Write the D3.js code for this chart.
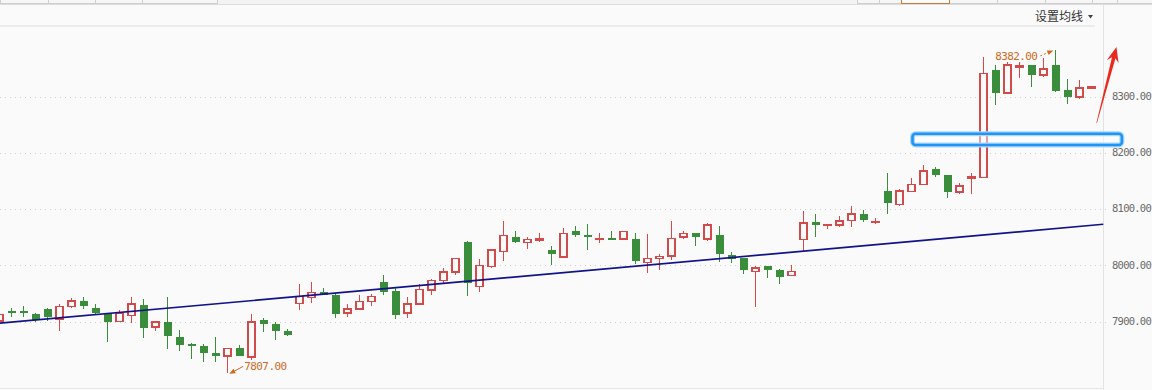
<!DOCTYPE html>
<html>
<head>
<meta charset="utf-8">
<script src="https://cdn.jsdelivr.net/npm/d3@7/dist/d3.min.js"></script>
<style>
  html, body { margin: 0; padding: 0; background: #fafafa; }
  svg { display: block; }
</style>
</head>
<body>
<svg id="chart" width="1152" height="390"></svg>
<script>
// ---------------- data ----------------
const openPrices  = [7900,7917,7917,7912,7921,7904,7926,7936,7924,7913,7899,7910,7928,7889,7898,7872,7859,7856,7843,7838,
                     7852,7836,7902,7895,7882,7931,7942,7952,7946,7914,7921,7935,7969,7953,7914,7930,7955,7972,7987,8040,
                     7961,7997,8024,8049,8040,8044,8026,8014,8060,8053,8046,8047,8046,8045,8004,8011,8016,8049,8056,8046,
                     8053,8017,8012,7988,7997,7991,7981,8045,8076,8070,8071,8079,8090,8076,8131,8107,8130,8143,8170,8160,
                     8129,8154,8155,8346,8305,8352,8355,8337,8355,8311,8298,8314];
const highPrices  = [7915,7924,7926,7914,7924,7930,7941,7942,7931,7913,7920,7942,7939,7900,7943,7884,7861,7859,7872,7852,
                     7857,7912,7905,7898,7886,7966,7969,7959,7950,7930,7947,7948,7982,7959,7942,7966,7975,7995,8012,8042,
                     8010,8026,8077,8060,8049,8056,8033,8065,8069,8072,8056,8060,8059,8056,8055,8020,8078,8060,8056,8075,
                     8069,8022,8012,7998,7997,7992,8000,8096,8091,8072,8087,8104,8097,8084,8164,8135,8155,8177,8174,8160,
                     8145,8163,8369,8355,8361,8360,8355,8367,8382,8330,8328,8316];
const lowPrices   = [7898,7908,7907,7899,7900,7883,7924,7921,7913,7863,7899,7896,7870,7883,7851,7847,7833,7828,7828,7807,
                     7837,7831,7881,7866,7874,7920,7932,7946,7906,7908,7920,7927,7946,7903,7906,7930,7947,7966,7981,7945,
                     7951,7995,8006,8038,8028,8041,8000,8014,8050,8027,8038,8045,8045,8001,7985,7991,8008,8045,8034,8043,
                     8005,8003,7984,7925,7977,7965,7981,8025,8050,8064,8068,8068,8076,8072,8091,8104,8129,8143,8156,8119,
                     8125,8125,8154,8284,8305,8332,8316,8333,8308,8286,8294,8314];
const closePrices = [7912,7916,7916,7901,7908,7926,7936,7927,7915,7899,7913,7930,7888,7898,7874,7857,7858,7843,7837,7851,
                     7837,7898,7895,7883,7875,7944,7951,7947,7913,7921,7935,7944,7952,7911,7930,7956,7972,7987,8011,7967,
                     7999,8026,8052,8041,8045,8047,8019,8056,8053,8049,8047,8046,8059,8007,8011,8015,8047,8056,8049,8071,
                     8020,8010,7990,7994,7991,7979,7988,8074,8071,8072,8078,8090,8079,8077,8110,8131,8143,8167,8160,8130,
                     8140,8156,8340,8306,8355,8354,8338,8348,8309,8299,8314,8316];

const yTicks = [7900, 8000, 8100, 8200, 8300];
const trendLine = [{i: 0, v: 7896}, {i: 92, v: 8072}];
const highlightBox = {i0: 76.1, i1: 93.55, v0: 8213, v1: 8233};
const redArrow = {from: {i: 91.45, v: 8252}, to: {i: 93.1, v: 8387}};
const maxMark = {i: 88, v: 8382, label: "8382.00"};
const minMark = {i: 19, v: 7807, label: "7807.00"};
const menuLabel = "设置均线";

// ---------------- setup ----------------
const svg = d3.select("#chart");
const W = 1152, H = 390;
const BG = "#fafafa", RED = "#d24b4b", GREEN = "#3a8d3a", ORANGE = "#cc6a26";
const axisX = 1103.5;

const x = d3.scaleLinear().domain([0, 91]).range([-0.7, 1091.3]);
const y = d3.scaleLinear().domain([7900, 8300]).range([321, 96]);

svg.append("rect").attr("width", W).attr("height", H).attr("fill", BG);

// header chrome
const head = svg.append("g").attr("shape-rendering", "crispEdges");
head.append("rect").attr("x", 0).attr("y", 0).attr("width", W).attr("height", 4).attr("fill", "#f3f3f3");
[[0.5, 217], [857.5, 295]].forEach(([x0, w]) => {
  head.append("rect").attr("x", x0).attr("y", -1).attr("width", w).attr("height", 4.5)
    .attr("fill", "#f6f6f6").attr("stroke", "#cfcfcf");
});
[48, 95.5, 142].forEach(xx => head.append("line").attr("x1", xx).attr("x2", xx).attr("y1", 0).attr("y2", 4).attr("stroke", "#cfcfcf"));
[879.5, 997, 1045, 1092.5, 1117].forEach(xx => head.append("line").attr("x1", xx).attr("x2", xx).attr("y1", 0).attr("y2", 4).attr("stroke", "#cfcfcf"));
head.append("rect").attr("x", 901.5).attr("y", -1).attr("width", 47.5).attr("height", 4.5)
  .attr("fill", "#fbfbfb").attr("stroke", "#d07a3a");
head.append("line").attr("x1", 0).attr("x2", W).attr("y1", 4.5).attr("y2", 4.5).attr("stroke", "#dcdcdc");
head.append("line").attr("x1", 0).attr("x2", 1095).attr("y1", 26).attr("y2", 26).attr("stroke", "#ececec").attr("stroke-width", 2);
svg.append("text").attr("x", 1035).attr("y", 21).attr("font-family", "'Noto Sans CJK SC', sans-serif")
  .attr("font-size", 12).attr("fill", "#333").text(menuLabel);
svg.append("path").attr("d", "M1088,15 L1093,15 L1090.5,18.5 Z").attr("fill", "#444");

// axis line & bottom line
svg.append("line").attr("x1", axisX).attr("x2", axisX).attr("y1", 5).attr("y2", H)
  .attr("stroke", "#e2e2e2").attr("shape-rendering", "crispEdges");
svg.append("line").attr("x1", 0).attr("x2", axisX).attr("y1", 388.5).attr("y2", 388.5)
  .attr("stroke", "#e6e6e6").attr("shape-rendering", "crispEdges");

// grid
const grid = svg.append("g").attr("class", "grid")
  .call(d3.axisRight(y).tickValues(yTicks).tickSize(1106).tickFormat(""));
grid.select(".domain").remove();
grid.selectAll("line").attr("stroke", "#cdcdcd").attr("stroke-dasharray", "1,4")
  .attr("transform", "translate(0,0.5)").attr("shape-rendering", "crispEdges");

// y axis labels
const yAxis = svg.append("g").attr("transform", `translate(1112,0)`)
  .call(d3.axisRight(y).tickValues(yTicks).tickSize(0).tickPadding(0).tickFormat(d3.format(".2f")));
yAxis.select(".domain").remove();
yAxis.selectAll("text").attr("fill", "#6a6a6a").attr("font-family", "'DejaVu Sans Mono', monospace")
  .attr("font-size", 10.5).attr("letter-spacing", "-0.75px");

// candles
const data = openPrices.map((o, i) => ({i, o, h: highPrices[i], l: lowPrices[i], c: closePrices[i]}));
const cg = svg.append("g").attr("class", "candles").attr("shape-rendering", "crispEdges");
data.forEach(d => {
  const cx = Math.round(x(d.i));
  const up = d.c >= d.o;
  const yTop = y(Math.max(d.o, d.c)), yBot = y(Math.min(d.o, d.c));
  const g = cg.append("g");
  if (up) {
    g.append("line").attr("x1", cx + 0.5).attr("x2", cx + 0.5).attr("y1", y(d.h)).attr("y2", yTop).attr("stroke", RED);
    g.append("line").attr("x1", cx + 0.5).attr("x2", cx + 0.5).attr("y1", yBot).attr("y2", y(d.l)).attr("stroke", RED);
    const hgt = Math.max(0.5, yBot - yTop);
    g.append("rect").attr("x", cx - 3).attr("y", yTop).attr("width", 7).attr("height", hgt)
      .attr("fill", BG).attr("stroke", RED).attr("stroke-width", 1.5);
  } else {
    g.append("line").attr("x1", cx + 0.5).attr("x2", cx + 0.5).attr("y1", y(d.h)).attr("y2", y(d.l)).attr("stroke", GREEN);
    const hgt = Math.max(1.5, yBot - yTop);
    g.append("rect").attr("x", cx - 3.5).attr("y", yTop).attr("width", 8).attr("height", hgt).attr("fill", GREEN);
  }
});

// trend line
svg.append("line")
  .attr("x1", x(trendLine[0].i)).attr("y1", y(trendLine[0].v))
  .attr("x2", x(trendLine[1].i)).attr("y2", y(trendLine[1].v))
  .attr("stroke", "#12128a").attr("stroke-width", 1.7);

// highlight box
const bx0 = x(highlightBox.i0), bx1 = x(highlightBox.i1);
const by0 = y(highlightBox.v1), by1 = y(highlightBox.v0);
svg.append("rect").attr("x", bx0).attr("y", by0).attr("width", bx1 - bx0).attr("height", by1 - by0)
  .attr("rx", 3).attr("fill", "rgba(255,255,255,0.45)").attr("stroke", "#a9d6ff").attr("stroke-width", 5);
svg.append("rect").attr("x", bx0).attr("y", by0).attr("width", bx1 - bx0).attr("height", by1 - by0)
  .attr("rx", 3).attr("fill", "none").attr("stroke", "#2195f0").attr("stroke-width", 2.6);

// red arrow
(function () {
  const tx = x(redArrow.from.i), ty = y(redArrow.from.v);
  const px = x(redArrow.to.i), py = y(redArrow.to.v);
  const dx = px - tx, dy = py - ty, len = Math.hypot(dx, dy);
  const ux = dx / len, uy = dy / len, nx = -uy, ny = ux;
  const headLen = 15, notch = 11;
  const bx = px - ux * headLen, byy = py - uy * headLen;
  const sx = px - ux * notch, sy = py - uy * notch;
  const pt = (ax, ay, w) => [ax + nx * w, ay + ny * w];
  const pts = [pt(tx, ty, 0.3), pt(sx, sy, 1.8), pt(bx, byy, 6), [px, py], pt(bx, byy, -6), pt(sx, sy, -1.8), pt(tx, ty, -0.3)];
  svg.append("path").attr("d", "M" + pts.map(p => p.join(",")).join("L") + "Z").attr("fill", "#ea2a1e");
})();

// max / min annotations
function smallArrow(x1, y1, x2, y2, dashed) {
  const dx = x2 - x1, dy = y2 - y1, len = Math.hypot(dx, dy);
  const ux = dx / len, uy = dy / len, nx = -uy, ny = ux;
  svg.append("line").attr("x1", x1).attr("y1", y1).attr("x2", x2 - ux * 3).attr("y2", y2 - uy * 3)
    .attr("stroke", ORANGE).attr("stroke-width", 1).attr("stroke-dasharray", dashed ? "2,2" : null);
  const b = [x2 - ux * 6, y2 - uy * 6];
  svg.append("path").attr("d", `M${x2},${y2}L${b[0] + nx * 2.5},${b[1] + ny * 2.5}L${b[0] - nx * 2.5},${b[1] - ny * 2.5}Z`)
    .attr("fill", ORANGE);
}
{
  const mx = x(maxMark.i), my = y(maxMark.v);
  svg.append("text").attr("x", mx - 18).attr("y", my + 10).attr("text-anchor", "end")
    .attr("font-family", "'DejaVu Sans Mono', monospace").attr("font-size", 11).attr("letter-spacing", "-0.6px")
    .attr("fill", ORANGE).text(maxMark.label);
  smallArrow(mx - 15, my + 6, mx - 2, my + 0.5, true);
}
{
  const mx = x(minMark.i), my = y(minMark.v);
  svg.append("text").attr("x", mx + 17).attr("y", my - 3.5)
    .attr("font-family", "'DejaVu Sans Mono', monospace").attr("font-size", 11).attr("letter-spacing", "-0.6px")
    .attr("fill", ORANGE).text(minMark.label);
  smallArrow(mx + 16, my - 7, mx + 2, my + 0.5, false);
}
</script>
</body>
</html>
